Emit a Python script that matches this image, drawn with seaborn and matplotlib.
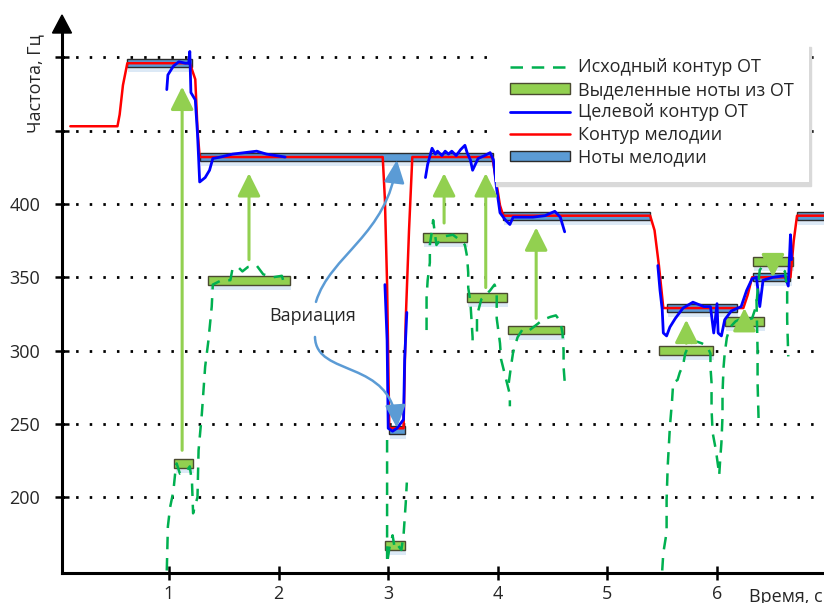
import numpy as np
import pandas as pd
import matplotlib
matplotlib.use("Agg")
import matplotlib.pyplot as plt
from matplotlib.patches import Patch, Polygon, FancyArrowPatch
from matplotlib.lines import Line2D
from matplotlib.path import Path
import seaborn as sns

# ---------------- data ----------------
# melody contour (red), time in s, frequency in Hz
melody_t = [0.10, 0.53, 0.55, 0.58, 0.62, 1.19, 1.24, 1.26, 1.28, 2.95, 2.97, 2.99, 3.01,
            3.14, 3.16, 3.19, 3.22, 3.95, 3.99, 4.02, 4.05, 5.39, 5.43, 5.47, 5.51, 6.24,
            6.28, 6.32, 6.67, 6.70, 6.73, 6.98]
melody_f = [453, 453, 461, 481, 496, 496, 485, 451, 432, 432, 403, 345, 247,
            247, 321, 382, 432, 432, 413, 399, 392, 392, 382, 358, 329, 329,
            338, 350, 350, 375, 392, 392]

# target F0 contour (blue), four voiced fragments
target_t_a = [0.98, 0.99, 1.04, 1.09, 1.15, 1.18, 1.19, 1.20, 1.24, 1.26, 1.27, 1.28, 1.33,
              1.37, 1.40, 1.47, 1.58, 1.80, 1.89, 2.06]
target_f_a = [478, 488, 494, 497, 496, 496, 504, 476, 471, 448, 432, 415, 418,
              423, 431, 432, 434, 436, 434, 432]
target_t_b = [2.97, 2.99, 3.00, 3.04, 3.08, 3.14, 3.15, 3.17]
target_f_b = [345, 307, 247, 245, 247, 253, 294, 326]
target_t_c = [3.34, 3.36, 3.40, 3.43, 3.45, 3.49, 3.52, 3.55, 3.58, 3.62, 3.66, 3.70, 3.72,
              3.75, 3.77, 3.82, 3.88, 3.93, 3.96, 3.99, 4.02, 4.07, 4.11, 4.14, 4.20, 4.32,
              4.43, 4.52, 4.57, 4.61]
target_f_c = [418, 427, 438, 434, 436, 433, 436, 434, 436, 433, 437, 440, 435,
              430, 423, 431, 433, 435, 430, 410, 394, 389, 386, 391, 391, 391,
              392, 395, 391, 381]
target_t_d = [5.46, 5.48, 5.50, 5.51, 5.54, 5.57, 5.62, 5.69, 5.78, 5.88, 5.94, 5.97, 6.00,
              6.01, 6.04, 6.07, 6.13, 6.22, 6.27, 6.32, 6.36, 6.39, 6.42, 6.51, 6.62, 6.65,
              6.67, 6.68]
target_f_d = [358, 341, 328, 312, 310, 316, 322, 329, 333, 330, 330, 312, 332,
              312, 310, 321, 327, 330, 341, 349, 350, 330, 348, 350, 351, 344,
              379, 362]

# original F0 contour (green dashed), voiced fragments
f0_t_a = [0.98, 0.99, 1.01, 1.04, 1.06, 1.07, 1.10, 1.15, 1.19, 1.21, 1.22, 1.26, 1.27, 1.30,
          1.33, 1.36, 1.39, 1.40, 1.48, 1.56, 1.58, 1.63, 1.67, 1.72, 1.80, 1.86, 1.95, 2.03, 2.06]
f0_f_a = [150, 180, 193, 204, 219, 223, 216, 217, 221, 210, 189, 200, 232, 257,
          289, 307, 330, 345, 348, 348, 356, 357, 354, 357, 358, 352, 350, 351, 343]
f0_t_b = [2.99, 2.99, 3.01, 3.04, 3.06, 3.09, 3.12, 3.14, 3.15, 3.16, 3.17]
f0_f_b = [239, 155, 165, 174, 165, 167, 164, 174, 185, 196, 210]
f0_t_c = [3.35, 3.35, 3.36, 3.38, 3.38, 3.40, 3.41, 3.44, 3.47, 3.52, 3.59, 3.66, 3.70, 3.72,
          3.73, 3.73, 3.75, 3.76, 3.77, 3.77]
f0_f_c = [314, 336, 348, 360, 372, 382, 389, 372, 375, 378, 379, 375, 372, 364,
          353, 343, 333, 321, 309, 302]
f0_t_d = [3.81, 3.81, 3.85, 3.89, 3.93, 3.97, 3.99, 3.99, 3.99, 4.02, 4.03, 4.07, 4.11, 4.11]
f0_f_d = [313, 324, 335, 338, 341, 345, 341, 335, 322, 305, 294, 282, 270, 262]
f0_t_e = [4.10, 4.12, 4.14, 4.18, 4.23, 4.29, 4.36, 4.41, 4.48, 4.53, 4.57, 4.59, 4.60, 4.60, 4.61]
f0_f_e = [278, 289, 299, 309, 315, 314, 318, 321, 323, 324, 320, 312, 300, 289, 279]
f0_t_f = [5.50, 5.51, 5.54, 5.54, 5.55, 5.57, 5.59, 5.60, 5.64, 5.66, 5.69, 5.71, 5.75, 5.82,
          5.86, 5.91, 5.94, 5.94, 5.95, 5.95, 5.96, 5.99, 6.01, 6.02, 6.03, 6.04, 6.05, 6.05,
          6.06, 6.07, 6.09, 6.12, 6.17, 6.23, 6.28, 6.32, 6.36, 6.37, 6.39, 6.44, 6.48, 6.53,
          6.58, 6.62, 6.64, 6.64, 6.65]
f0_f_f = [150, 162, 176, 198, 221, 248, 266, 278, 280, 285, 290, 298, 305, 306,
          305, 303, 298, 289, 278, 260, 244, 232, 221, 215, 227, 237, 255, 271,
          289, 298, 309, 316, 320, 322, 321, 322, 331, 341, 355, 360, 358, 360,
          356, 354, 341, 321, 296]
f0_t_g = [6.36, 6.37, 6.37, 6.38]
f0_f_g = [335, 300, 278, 251]

# melody notes (blue bars)
mel_start = [0.62, 1.28, 3.01, 4.05, 5.54, 6.33, 6.73]
mel_end = [1.21, 3.96, 3.15, 5.39, 6.18, 6.67, 7.05]
mel_freq = [496, 432, 246, 392, 329, 350, 392]

# notes extracted from F0 (green bars)
ext_start = [1.05, 1.36, 2.97, 3.32, 3.72, 4.09, 5.47, 6.07, 6.33]
ext_end = [1.22, 2.10, 3.15, 3.72, 4.08, 4.60, 5.96, 6.43, 6.69]
ext_freq = [223, 348, 167, 377, 336, 314, 300, 320, 361]

# shifts from extracted notes to melody notes (green arrows)
shift_t = [1.12, 1.73, 3.51, 3.89, 4.35, 5.72, 6.25, 6.51]
shift_from = [232, 362, 387, 343, 322, 305, 316, 363]
shift_to = [480, 421, 421, 421, 384, 321, 329, 350]

y_ticks = [200, 250, 300, 350, 400, 450, 500]
y_tick_labels = ["200", "250", "300", "350", "400", "", ""]
x_ticks = [1, 2, 3, 4, 5, 6]

legend_labels = ["Исходный контур ОТ", "Выделенные ноты из ОТ", "Целевой контур ОТ",
                 "Контур мелодии", "Ноты мелодии"]

# ---------------- styling ----------------
C_RED = "#FF0000"
C_BLUE = "#0000FF"
C_F0 = "#00B050"
C_EXT = "#92D050"
C_NOTE = "#5B9BD5"
C_SHADOW = "#dce9f6"
F0_DASH = (0, (5, 3.5))

sns.set_style("white")
plt.rcParams["font.family"] = ["Open Sans", "DejaVu Sans"]
plt.rcParams["font.size"] = 13


def fragments(pairs):
    frames = []
    for i, (t, f) in enumerate(pairs):
        frames.append(pd.DataFrame({"t": t, "f": f, "seg": i}))
    return pd.concat(frames, ignore_index=True)


melody_df = pd.DataFrame({"t": melody_t, "f": melody_f, "seg": 0})
target_df = fragments([(target_t_a, target_f_a), (target_t_b, target_f_b),
                       (target_t_c, target_f_c), (target_t_d, target_f_d)])
f0_df = fragments([(f0_t_a, f0_f_a), (f0_t_b, f0_f_b), (f0_t_c, f0_f_c),
                   (f0_t_d, f0_f_d), (f0_t_e, f0_f_e), (f0_t_f, f0_f_f),
                   (f0_t_g, f0_f_g)])

fig = plt.figure(figsize=(8.24, 6.03), dpi=100)
ax = fig.add_axes([62 / 824, 30 / 603, 762 / 824, 540 / 603])
ax.set_xlim(0.024, 6.976)
ax.set_ylim(148.3, 516.6)

# horizontal dotted grid
ax.set_yticks(y_ticks)
ax.set_yticklabels(y_tick_labels)
ax.set_xticks(x_ticks)
ax.yaxis.grid(True, color="black", linestyle=(0, (0.9, 4.0)), linewidth=2.0)
ax.xaxis.grid(False)
ax.set_axisbelow(True)

# note bars with soft shadows
NOTE_H = 5.5
EXT_H = 6.0
ms, me, mf = np.array(mel_start), np.array(mel_end), np.array(mel_freq)
es, ee, ef = np.array(ext_start), np.array(ext_end), np.array(ext_freq)
ax.bar(x=ms + 0.01, height=NOTE_H, width=me - ms, bottom=mf - NOTE_H / 2 - 3.5,
       align="edge", color=C_SHADOW, linewidth=0, zorder=1)
ax.bar(x=es + 0.01, height=EXT_H, width=ee - es, bottom=ef - EXT_H / 2 - 3.5,
       align="edge", color=C_SHADOW, linewidth=0, zorder=1)
ax.bar(x=ms, height=NOTE_H, width=me - ms, bottom=mf - NOTE_H / 2, align="edge",
       color=C_NOTE, edgecolor="#2b2b2b", linewidth=1.0, zorder=2)
ax.bar(x=es, height=EXT_H, width=ee - es, bottom=ef - EXT_H / 2, align="edge",
       color=C_EXT, edgecolor="#4a4a30", linewidth=1.0, zorder=3)

# contours
sns.lineplot(data=melody_df, x="t", y="f", units="seg", estimator=None, sort=False,
             color=C_RED, linewidth=1.8, legend=False, ax=ax, zorder=4)
sns.lineplot(data=target_df, x="t", y="f", units="seg", estimator=None, sort=False,
             color=C_BLUE, linewidth=2.0, legend=False, ax=ax, zorder=5)
sns.lineplot(data=f0_df, x="t", y="f", units="seg", estimator=None, sort=False,
             color=C_F0, linewidth=1.8, linestyle=F0_DASH, legend=False, ax=ax, zorder=6)

# green shift arrows
for t, f_from, f_to in zip(shift_t, shift_from, shift_to):
    ax.annotate("", xy=(t, f_to), xytext=(t, f_from),
                arrowprops=dict(arrowstyle="-|>,head_length=1.0,head_width=0.5",
                                mutation_scale=14, color=C_EXT, lw=2.2,
                                shrinkA=0, shrinkB=0), zorder=7)

# "variation" label with two curved arrows
ax.text(2.314, 323.6, "Вариация", ha="center", va="center", fontsize=13,
        color="#262626", zorder=8)


def curved_arrow(p0, c1, c2, p1):
    path = Path([p0, c1, c2, p1], [Path.MOVETO, Path.CURVE4, Path.CURVE4, Path.CURVE4])
    return FancyArrowPatch(path=path, arrowstyle="-|>,head_length=1.0,head_width=0.45",
                           mutation_scale=14, color=C_NOTE, lw=1.8, zorder=8)


ax.add_patch(curved_arrow((2.341, 333.2), (2.469, 365.2), (2.998, 378.9), (3.080, 430.0)))
ax.add_patch(curved_arrow((2.332, 309.3), (2.341, 281.3), (3.035, 295.0), (3.080, 247.2)))

# axes look
for side in ("top", "right"):
    ax.spines[side].set_visible(False)
for side in ("left", "bottom"):
    ax.spines[side].set_color("black")
    ax.spines[side].set_linewidth(2.2)
ax.tick_params(axis="both", direction="inout", length=9.5, width=1.8, color="black",
               labelsize=13, labelcolor="#262626", bottom=True, left=True)
ax.tick_params(axis="y", pad=11)
ax.tick_params(axis="x", pad=4)
ax.set_xlabel("")
ax.set_ylabel("")

# arrow head on top of the frequency axis
fig.patches.append(Polygon([(62 / 824, 1 - 15 / 603), (52.5 / 824, 1 - 33 / 603),
                            (71.5 / 824, 1 - 33 / 603)], closed=True,
                           transform=fig.transFigure, facecolor="black",
                           edgecolor="black", zorder=10))

fig.text(35 / 824, 1 - 84 / 603, "Частота, Гц", rotation=90, ha="center", va="center",
         fontsize=13, color="#262626")
fig.text(749 / 824, 1 - 588 / 603, "Время, с", ha="left", va="top", fontsize=13,
         color="#262626")

# legend
handles = [
    Line2D([], [], color=C_F0, lw=1.8, linestyle=F0_DASH),
    Patch(facecolor=C_EXT, edgecolor="#4a4a30", lw=1.0),
    Line2D([], [], color=C_BLUE, lw=2.0),
    Line2D([], [], color=C_RED, lw=1.8),
    Patch(facecolor=C_NOTE, edgecolor="#2b2b2b", lw=1.0),
]
leg = ax.legend(handles, legend_labels, loc="upper left",
                bbox_to_anchor=(495 / 824, 1 - 43 / 603), bbox_transform=fig.transFigure,
                frameon=True, facecolor="white", edgecolor="none", framealpha=1,
                fancybox=False, fontsize=13, handlelength=3.3, handleheight=0.5,
                handletextpad=0.45, labelspacing=0.25, borderpad=0.85, borderaxespad=0,
                shadow={"color": "#d9d9d9", "alpha": 1, "ox": 1, "oy": -3})
leg.set_zorder(20)
for txt in leg.get_texts():
    txt.set_color("#262626")

fig.savefig("out.png", dpi=100)
